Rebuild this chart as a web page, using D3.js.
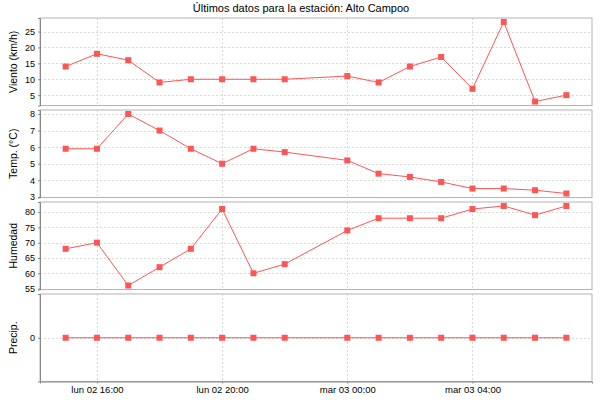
<!DOCTYPE html>
<html>
<head>
<meta charset="utf-8">
<script src="https://cdn.jsdelivr.net/npm/d3@7"></script>
<style>
  body { margin: 0; background: #fff; }
  text { font-family: "Liberation Sans", Arial, sans-serif; fill: #000; }
</style>
</head>
<body>
<svg></svg>
<script>
var W = 600, H = 400;
var margin = {top: 18, left: 40, bottom: 18.5, right: 8};
var width = W - margin.left - margin.right;
var height = H - margin.top - margin.bottom;
var gap = 4.5;

// hourly readings (23:00 missing)
var times = [
  "2020-03-02T15:00", "2020-03-02T16:00", "2020-03-02T17:00", "2020-03-02T18:00",
  "2020-03-02T19:00", "2020-03-02T20:00", "2020-03-02T21:00", "2020-03-02T22:00",
  "2020-03-03T00:00", "2020-03-03T01:00", "2020-03-03T02:00", "2020-03-03T03:00",
  "2020-03-03T04:00", "2020-03-03T05:00", "2020-03-03T06:00", "2020-03-03T07:00"
];
var viento = [14, 18, 16, 9, 10, 10, 10, 10, 11, 9, 14, 17, 7, 28, 3, 5];
var temp = [5.9, 5.9, 8.0, 7.0, 5.9, 5.0, 5.9, 5.7, 5.2, 4.4, 4.2, 3.9, 3.5, 3.5, 3.4, 3.2];
var humedad = [68, 70, 56, 62, 68, 81, 60, 63, 74, 78, 78, 78, 81, 82, 79, 82];
var precip = [0, 0, 0, 0, 0, 0, 0, 0, 0, 0, 0, 0, 0, 0, 0, 0];

var xTicks = ["2020-03-02T16:00", "2020-03-02T20:00", "2020-03-03T00:00", "2020-03-03T04:00"];
var xTickLabels = ["lun 02 16:00", "lun 02 20:00", "mar 03 00:00", "mar 03 04:00"];

var titleText = "Últimos datos para la estación: Alto Campoo";

var panels = [
  {label: "Viento (km/h)", values: viento, ticks: [5, 10, 15, 20, 25]},
  {label: "Temp. (°C)", values: temp, ticks: [3, 4, 5, 6, 7, 8]},
  {label: "Humedad", values: humedad, ticks: [55, 60, 65, 70, 75, 80]},
  {label: "Precip.", values: precip, ticks: [0]}
];

var parse = d3.timeParse("%Y-%m-%dT%H:%M");
var dates = times.map(parse);

var svg = d3.select("svg")
  .attr("width", W)
  .attr("height", H);

svg.append("text")
  .attr("x", W / 2 + 1)
  .attr("y", 12)
  .attr("text-anchor", "middle")
  .style("font-size", "11px")
  .text(titleText);

var g = svg.append("g")
  .attr("transform", "translate(" + margin.left + "," + margin.top + ")");

// x scale shared by all panels
var pad = 0.82 * 3600 * 1000;
var x = d3.scaleTime()
  .domain([new Date(dates[0].getTime() - pad), new Date(dates[dates.length - 1].getTime() + pad)])
  .range([0, width]);

var ph = (height - gap * (panels.length - 1)) / panels.length;

panels.forEach(function (p, i) {
  var top = i * (ph + gap);
  var pg = g.append("g").attr("transform", "translate(0," + top + ")");

  var ext = d3.extent(p.values);
  var m = (ext[1] - ext[0]) * 0.05;
  if (m === 0) m = 1;
  var y = d3.scaleLinear()
    .domain([ext[0] - m, ext[1] + m])
    .range([ph, 0]);

  // grid
  pg.selectAll(".vg").data(xTicks).enter().append("line")
    .attr("x1", function (d) { return Math.round(x(parse(d))) + 0.5; })
    .attr("x2", function (d) { return Math.round(x(parse(d))) + 0.5; })
    .attr("y1", 0).attr("y2", ph)
    .attr("stroke", "#dadada")
    .attr("stroke-dasharray", "2,2");

  pg.selectAll(".hg").data(p.ticks).enter().append("line")
    .attr("x1", 0).attr("x2", width)
    .attr("y1", function (d) { return Math.round(y(d)) + 0.5; })
    .attr("y2", function (d) { return Math.round(y(d)) + 0.5; })
    .attr("stroke", "#dadada")
    .attr("stroke-dasharray", "2,2");

  // outline
  pg.append("rect")
    .attr("x", 0).attr("y", 0)
    .attr("width", width).attr("height", ph)
    .attr("fill", "none")
    .attr("stroke", "#b4b4b4");

  // y axis
  var ya = pg.append("g")
    .call(d3.axisLeft(y).tickValues(p.ticks).tickSize(2).tickPadding(3).tickFormat(d3.format("d")));
  ya.select(".domain").attr("stroke", "#888");
  ya.selectAll(".tick line").attr("stroke", "#888");
  ya.selectAll("text").style("font-size", "9px").attr("fill", "#000");

  pg.append("text")
    .attr("transform", "translate(-23," + (ph / 2) + ") rotate(-90)")
    .attr("text-anchor", "middle")
    .style("font-size", "10.5px")
    .text(p.label);

  // series
  pg.append("path")
    .datum(p.values)
    .attr("fill", "none")
    .attr("stroke", "#ff5555")
    .attr("stroke-width", 1)
    .attr("d", d3.line()
      .x(function (d, j) { return x(dates[j]); })
      .y(function (d) { return y(d); })
    );

  pg.selectAll(".pt").data(p.values).enter().append("rect")
    .attr("x", function (d, j) { return x(dates[j]) - 3; })
    .attr("y", function (d) { return y(d) - 3; })
    .attr("width", 6).attr("height", 6)
    .attr("fill", "#ff5555");

  if (i === panels.length - 1) {
    var xa = pg.append("g")
      .attr("transform", "translate(0," + ph + ")")
      .call(d3.axisBottom(x)
        .tickValues(xTicks.map(parse))
        .tickSize(2).tickPadding(3)
        .tickFormat(function (d, k) { return xTickLabels[k]; }));
    xa.select(".domain").attr("stroke", "#888");
    xa.selectAll(".tick line").attr("stroke", "#888");
    xa.selectAll("text").style("font-size", "9.5px").attr("fill", "#000");
  }
});
</script>
</body>
</html>
